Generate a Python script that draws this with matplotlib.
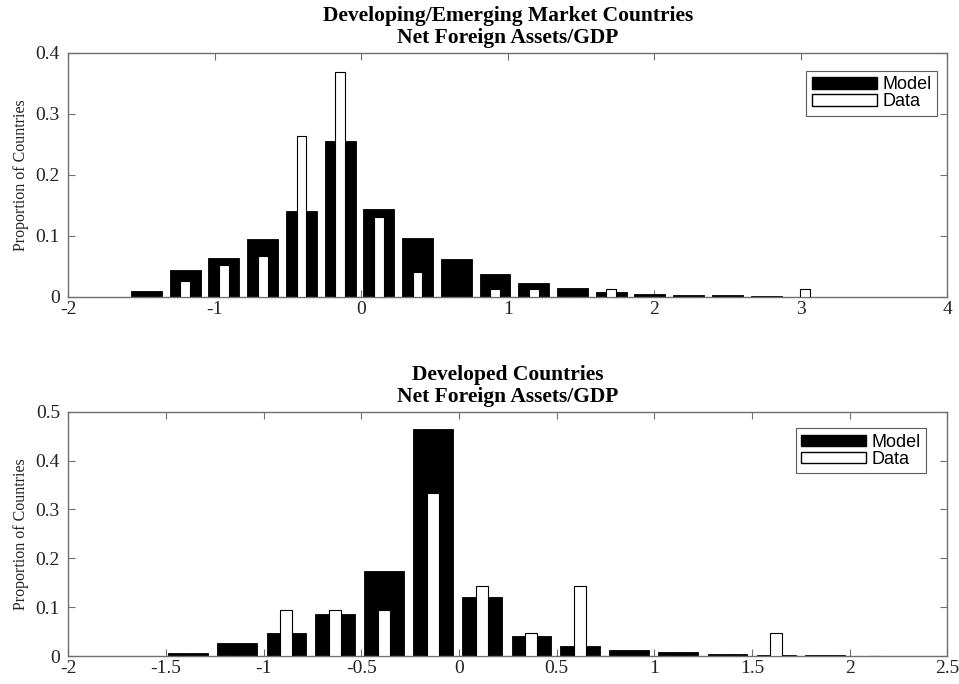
import numpy as np
import matplotlib
matplotlib.use("Agg")
import matplotlib.pyplot as plt
from matplotlib.patches import Patch

# ============================================
# DATE
# ============================================
# Developing / emerging markets
dev_centers = [-1.466, -1.202, -0.938, -0.673, -0.409, -0.145, 0.119, 0.384, 0.648,
               0.912, 1.176, 1.441, 1.705, 1.969, 2.233, 2.497, 2.762, 3.026]
dev_model = [0.009, 0.043, 0.064, 0.095, 0.140, 0.256, 0.144, 0.097, 0.062,
             0.038, 0.023, 0.014, 0.008, 0.005, 0.003, 0.002, 0.001, 0.0]
dev_data = [0.0, 0.026, 0.052, 0.066, 0.263, 0.368, 0.130, 0.040, 0.0,
            0.013, 0.013, 0.0, 0.013, 0.0, 0.0, 0.0, 0.0, 0.013]

# Developed
adv_centers = [-1.387, -1.136, -0.885, -0.635, -0.384, -0.133, 0.118, 0.369,
               0.619, 0.870, 1.121, 1.372, 1.623, 1.873, 2.124]
adv_model = [0.007, 0.027, 0.048, 0.085, 0.175, 0.464, 0.120, 0.041,
             0.020, 0.012, 0.008, 0.004, 0.002, 0.0015, 0.0005]
adv_data = [0.0, 0.0, 0.095, 0.095, 0.095, 0.333, 0.143, 0.048,
            0.143, 0.0, 0.0, 0.0, 0.048, 0.0, 0.0]

dev_xticks = [-2, -1, 0, 1, 2, 3, 4]
dev_yticks = [0, 0.1, 0.2, 0.3, 0.4]
adv_xticks = [-2, -1.5, -1, -0.5, 0, 0.5, 1, 1.5, 2, 2.5]
adv_yticks = [0, 0.1, 0.2, 0.3, 0.4, 0.5]

SERIF = ["Liberation Serif", "DejaVu Serif"]
SANS = ["Liberation Sans", "DejaVu Sans"]
AX_COLOR = "#6e6e6e"

fig = plt.figure(figsize=(9.59, 6.84), dpi=100)
fig.patch.set_facecolor("white")

ax_top = fig.add_axes([0.0712, 0.5662, 0.9168, 0.3568])
ax_bot = fig.add_axes([0.0712, 0.0409, 0.9168, 0.3572])


def draw_panel(ax, centers, model, data, xticks, yticks, title, leg_anchor):
    centers = np.array(centers)
    step = np.diff(centers).mean()
    ax.bar(centers, model, width=0.8 * step, color="black", edgecolor="black",
           linewidth=0.6, zorder=2)
    ax.bar(centers, data, width=0.25 * step, color="white", edgecolor="black",
           linewidth=0.8, zorder=3)

    ax.set_xlim(xticks[0], xticks[-1])
    ax.set_ylim(yticks[0], yticks[-1])
    ax.set_xticks(xticks)
    ax.set_yticks(yticks)
    ax.set_xticklabels([f"{t:g}" for t in xticks], family=SERIF, fontsize=14)
    ax.set_yticklabels([f"{t:g}" for t in yticks], family=SERIF, fontsize=14)
    ax.tick_params(direction="in", length=5, width=0.8, color=AX_COLOR,
                   top=True, right=True, labelcolor="#222222")
    ax.tick_params(axis="x", pad=3)
    ax.tick_params(axis="y", pad=6)
    for spine in ax.spines.values():
        spine.set_edgecolor(AX_COLOR)
        spine.set_linewidth(1.0)

    ax.set_ylabel("Proportion of Countries", family=SERIF, fontsize=11.5,
                  color="#222222", labelpad=5)
    ax.set_title(title, family=SERIF, fontsize=15.5, fontweight="bold",
                 linespacing=1.1, pad=7)

    handles = [Patch(facecolor="black", edgecolor="black", label="Model"),
               Patch(facecolor="white", edgecolor="black", label="Data")]
    leg = ax.legend(handles=handles, loc="upper right", bbox_to_anchor=leg_anchor,
                    borderaxespad=0, frameon=True, fancybox=False,
                    prop={"family": SANS, "size": 13},
                    handlelength=3.6, handleheight=0.6, handletextpad=0.3,
                    labelspacing=0.0, borderpad=0.3)
    leg.get_frame().set_edgecolor("#333333")
    leg.get_frame().set_linewidth(0.8)


draw_panel(ax_top, dev_centers, dev_model, dev_data, dev_xticks, dev_yticks,
           "Developing/Emerging Market Countries\nNet Foreign Assets/GDP",
           (0.988, 0.925))
draw_panel(ax_bot, adv_centers, adv_model, adv_data, adv_xticks, adv_yticks,
           "Developed Countries\nNet Foreign Assets/GDP",
           (0.976, 0.932))

fig.savefig("out.png", dpi=100, facecolor="white")
